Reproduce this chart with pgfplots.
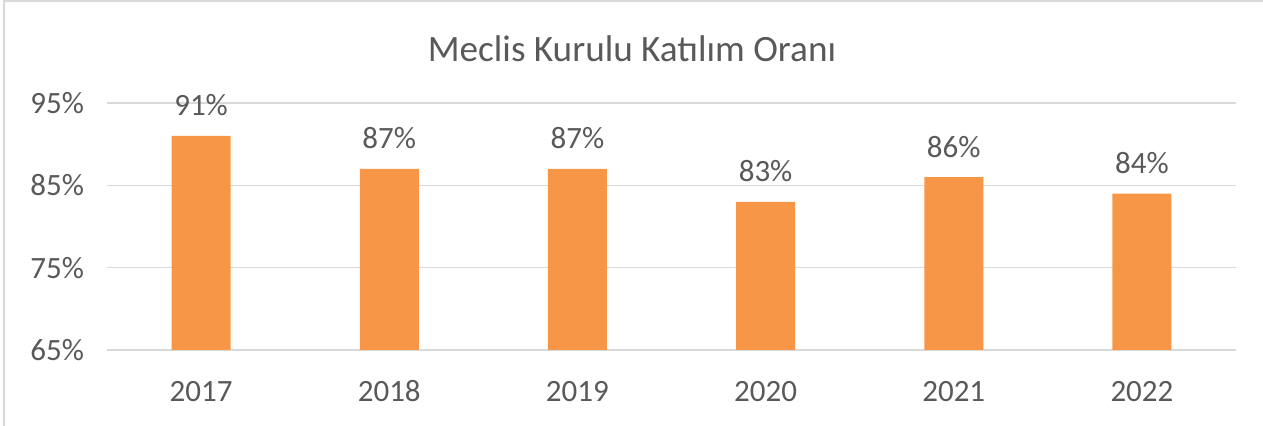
\documentclass[border=0pt]{standalone}
\usepackage{pgfplots}
\pgfplotsset{compat=1.18}
\usepackage{fontspec}
\setmainfont{Carlito}
\definecolor{barorange}{HTML}{F79646}
\definecolor{gridgray}{HTML}{D9D9D9}
\definecolor{txtgray}{HTML}{595959}
\begin{document}
\begin{tikzpicture}
\useasboundingbox (0,0) rectangle (631.5pt,213pt);
\draw[gridgray, line width=1pt] (2pt,0) -- (2pt,212.5pt) -- (631.5pt,212.5pt);
\node[txtgray, font=\fontsize{18.6}{22}\selectfont] at (316pt,188.5pt) {Meclis Kurulu Katılım Oranı};
\begin{axis}[
    at={(53.5pt,38pt)}, anchor=south west,
    scale only axis,
    width=564.5pt, height=123.5pt,
    ybar, bar width=29.5pt,
    xmin=-0.5, xmax=5.5,
    ymin=65, ymax=95,
    xtick=data,
    xticklabels={2017,2018,2019,2020,2021,2022},
    ytick={65,75,85,95},
    yticklabels={65\%,75\%,85\%,95\%},
    axis line style={draw=none},
    major tick length=0pt,
    ymajorgrids=true,
    grid style={gridgray, line width=0.75pt},
    tick label style={txtgray, font=\fontsize{15.5}{18}\selectfont},
    xticklabel style={anchor=base, inner sep=0pt, yshift=-26pt},
    yticklabel style={xshift=-8pt},
    /pgf/number format/assume math mode=true,
    nodes near coords={\pgfmathprintnumber{\pgfplotspointmeta}\%},
    every node near coord/.append style={txtgray, font=\fontsize{15.5}{18}\selectfont, anchor=base, inner sep=0pt, yshift=10pt},
    clip=false,
]
\addplot[fill=barorange, draw=none] coordinates {
    (0,91) (1,87) (2,87) (3,83) (4,86) (5,84)
};
\end{axis}
\end{tikzpicture}
\end{document}
